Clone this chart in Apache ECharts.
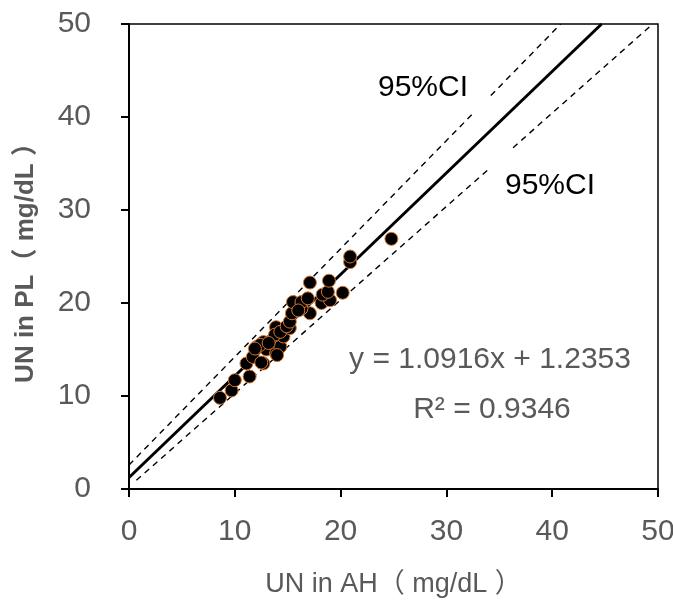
<!DOCTYPE html>
<html>
<head>
<meta charset="utf-8">
<script src="https://cdn.jsdelivr.net/npm/echarts@6/dist/echarts.min.js"></script>
<style>
html,body{margin:0;padding:0;background:#fff;}
#chart{width:673px;height:604px;}
</style>
</head>
<body>
<div id="chart"></div>
<script>
// Measured values: UN in AH (x) and UN in PL (y), mg/dL
const unAH = [8.6, 9.7, 10.0, 11.4, 11.1, 11.7, 12.7, 12.1, 13.0, 13.9, 12.7, 13.5, 14.3, 14.6, 13.9, 13.8, 14.3, 12.4, 11.9, 12.5, 15.2, 14.9, 15.2, 15.4, 17.1, 16.3, 15.5, 16.3, 16.9, 18.2, 19.0, 18.3, 18.8, 20.2, 17.1, 18.9, 20.9, 20.9, 24.8, 14.0, 16.0, 13.2];
const unPL = [9.8, 10.6, 11.7, 12.1, 13.5, 14.2, 13.5, 15.3, 15.0, 14.6, 15.8, 16.0, 15.3, 16.4, 17.4, 16.6, 16.9, 15.5, 15.1, 13.6, 17.3, 17.5, 18.0, 18.9, 18.9, 19.4, 20.1, 20.1, 20.5, 20.0, 20.3, 20.9, 21.2, 21.1, 22.2, 22.4, 24.4, 25.0, 26.9, 14.4, 19.2, 15.7];

// Regression line y = 1.0916x + 1.2353 (end points)
const regX = [0, 44.67];
const regY = [1.2353, 50];
// 95% CI dashed lines (end points, with a break)
const ciUpperX = [0, 32.7, null, 34.2, 40.8];
const ciUpperY = [2.58, 40.6, null, 42.3, 50];
const ciLowerX = [0.7, 34.0, null, 36.3, 49.5];
const ciLowerY = [0.94, 34.4, null, 36.7, 50];

const xTicks = [0, 10, 20, 30, 40, 50];
const yTicks = [0, 10, 20, 30, 40, 50];

const zip = (a, b) => a.map((v, i) => (v === null ? [null, null] : [v, b[i]]));
const FONT = '"Liberation Sans", Arial, sans-serif';

const chart = echarts.init(document.getElementById('chart'));
const axisCommon = {
  min: xTicks[0], max: xTicks[xTicks.length - 1], interval: 10,
  axisLine: {show: true, onZero: false, lineStyle: {color: '#000', width: 2}},
  axisTick: {show: true, inside: false, length: 8, lineStyle: {color: '#000', width: 2}},
  splitLine: {show: false},
  axisLabel: {color: '#595959', fontSize: 30, fontFamily: FONT},
  nameTextStyle: {color: '#595959', fontSize: 27, fontFamily: '"Liberation Sans", "Noto Sans CJK SC", sans-serif'}
};
chart.setOption({
  animation: false,
  backgroundColor: '#fff',
  grid: {left: 129, right: 15, top: 24, bottom: 115, show: true, borderColor: '#000', borderWidth: 1.5,
         containLabel: false, outerBoundsMode: 'none'},
  xAxis: Object.assign({}, axisCommon, {
    type: 'value', name: 'UN in AH（ mg/dL ）', nameLocation: 'middle', nameGap: 82,
    axisLabel: Object.assign({}, axisCommon.axisLabel, {margin: 28})
  }),
  yAxis: Object.assign({}, axisCommon, {
    type: 'value', min: yTicks[0], max: yTicks[yTicks.length - 1],
    name: 'UN in PL（ mg/dL ）', nameLocation: 'middle', nameGap: 90,
    axisLabel: Object.assign({}, axisCommon.axisLabel, {margin: 38}),
    nameTextStyle: Object.assign({}, axisCommon.nameTextStyle, {fontWeight: 'bold', fontSize: 26})
  }),
  series: [
    {type: 'line', data: zip(ciUpperX, ciUpperY), symbol: 'none', connectNulls: false,
     lineStyle: {color: '#000', width: 1.4, type: [6, 5]}, z: 2},
    {type: 'line', data: zip(ciLowerX, ciLowerY), symbol: 'none', connectNulls: false,
     lineStyle: {color: '#000', width: 1.4, type: [6, 5]}, z: 2},
    {type: 'line', data: zip(regX, regY), symbol: 'none',
     lineStyle: {color: '#000', width: 3}, z: 3},
    {type: 'scatter', data: zip(unAH, unPL), symbolSize: 13,
     itemStyle: {color: '#000', opacity: 1, borderColor: '#d9782f', borderWidth: 1}, z: 4}
  ],
  graphic: [
    {type: 'text', x: 423, y: 88, style: {text: '95%CI', fill: '#000', font: '30px ' + FONT, align: 'center', verticalAlign: 'middle'}},
    {type: 'text', x: 550, y: 186, style: {text: '95%CI', fill: '#000', font: '30px ' + FONT, align: 'center', verticalAlign: 'middle'}},
    {type: 'text', x: 490, y: 360, style: {text: 'y = 1.0916x + 1.2353', fill: '#595959', font: '30px ' + FONT, align: 'center', verticalAlign: 'middle'}},
    {type: 'text', x: 492, y: 410, style: {text: 'R² = 0.9346', fill: '#595959', font: '30px ' + FONT, align: 'center', verticalAlign: 'middle'}}
  ]
});
</script>
</body>
</html>
